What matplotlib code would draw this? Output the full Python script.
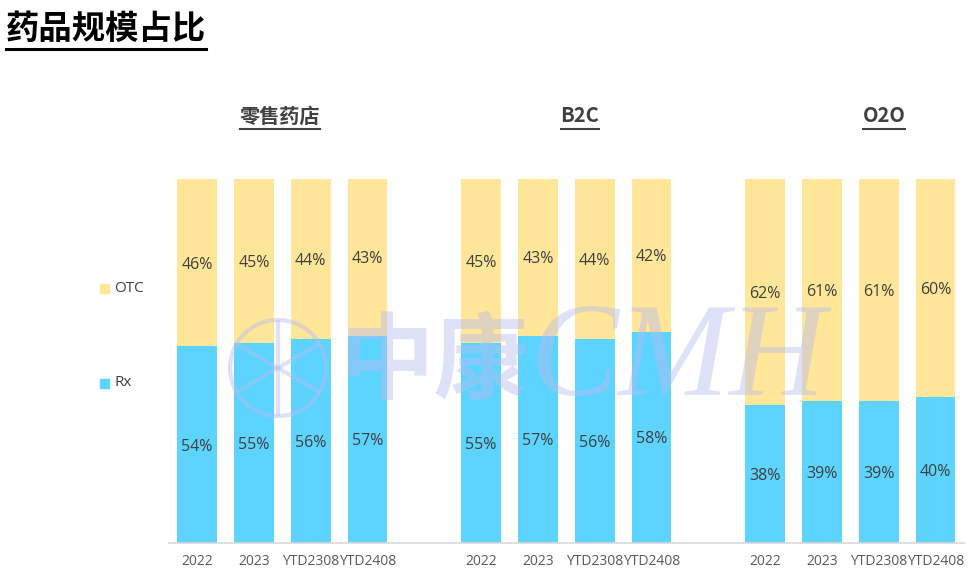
import matplotlib
matplotlib.use("Agg")
import matplotlib.pyplot as plt
from matplotlib.patches import Circle, Rectangle
from matplotlib.lines import Line2D
from matplotlib.transforms import IdentityTransform
import numpy as np

plt.rcParams['font.family'] = ['Open Sans', 'Noto Sans CJK SC', 'DejaVu Sans']

groups = ['零售药店', 'B2C', 'O2O']
periods = ['2022', '2023', 'YTD2308', 'YTD2408']
rx = {
    '零售药店': [54, 55, 56, 57],
    'B2C': [55, 57, 56, 58],
    'O2O': [38, 39, 39, 40],
}
otc = {
    '零售药店': [46, 45, 44, 43],
    'B2C': [45, 43, 44, 42],
    'O2O': [62, 61, 61, 60],
}

C_OTC = '#FFE699'
C_RX = '#5DD3FF'
TXT = '#404040'

W, H = 973, 578
fig = plt.figure(figsize=(W / 100, H / 100), dpi=100)

def fx(px):
    return px / W

def fy(py):
    return 1 - py / H

ax = fig.add_axes([fx(168.6), fy(543), fx(964) - fx(168.6), fy(179) - fy(543)])

xs, xl, rv, ov = [], [], [], []
for gi, g in enumerate(groups):
    for pi, p in enumerate(periods):
        xs.append(gi * 5 + pi)
        xl.append(p)
        rv.append(rx[g][pi])
        ov.append(otc[g][pi])
xs = np.array(xs)
rv = np.array(rv, dtype=float)
ov = np.array(ov, dtype=float)
tot = rv + ov
rfrac = rv / tot
ofrac = ov / tot

ax.bar(xs, rfrac, width=0.70, color=C_RX, zorder=2)
ax.bar(xs, ofrac, width=0.70, bottom=rfrac, color=C_OTC, zorder=2)
for x, r, o, rvv, ovv in zip(xs, rfrac, ofrac, rv, ov):
    ax.text(x, r / 2, f'{int(rvv)}%', ha='center', va='center_baseline', fontsize=11.5, color=TXT, zorder=3)
    ax.text(x, r + o / 2, f'{int(ovv)}%', ha='center', va='center_baseline', fontsize=11.5, color=TXT, zorder=3)

ax.set_xlim(-0.5, 13.5)
ax.set_ylim(0, 1)
ax.set_xticks(xs)
ax.set_xticklabels(xl, fontsize=10, color='#595959')
ax.tick_params(axis='x', length=0, pad=8)
ax.set_yticks([])
for s in ['top', 'right', 'left']:
    ax.spines[s].set_visible(False)
ax.spines['bottom'].set_color('#D9D9D9')
ax.spines['bottom'].set_linewidth(1.2)

items = []
t = fig.text(fx(6), fy(29), '药品规模占比', fontsize=24, fontweight='bold', color='black',
             ha='left', va='center', family=['Noto Sans CJK SC', 'DejaVu Sans'])
items.append((t, 2.2, 3, 'black'))
sub_x = [280, 580, 884]
for g, sx in zip(groups, sub_x):
    t = fig.text(fx(sx), fy(116), g, fontsize=14.5, fontweight='bold', color=TXT, ha='center', va='center',
                 family=['Noto Sans CJK SC', 'DejaVu Sans'])
    items.append((t, 1.5, 2, TXT))

fig.canvas.draw()
r = fig.canvas.get_renderer()
for t, lw, gap, c in items:
    bb = t.get_window_extent(renderer=r)
    yline = bb.y0 - gap
    fig.add_artist(Line2D([bb.x0 / W, bb.x1 / W], [yline / H, yline / H], color=c, lw=lw,
                          transform=fig.transFigure))

# Legend
for lab, py, col in [('OTC', 288, C_OTC), ('Rx', 383, C_RX)]:
    fig.add_artist(Rectangle((fx(100), fy(py + 4.5)), 9 / W, 9 / H, color=col, transform=fig.transFigure))
    fig.text(fx(114), fy(py), lab, fontsize=11, color=TXT, ha='left', va='center')

# Watermark
wm = '#B8BEF0'
cx, cy, rad = 278, H - 368, 48
fig.add_artist(Circle((cx, cy), rad, transform=IdentityTransform(), fill=False, ec=wm, lw=3,
                      alpha=0.45, zorder=10))
for ang in range(0, 180, 60):
    a = np.deg2rad(ang + 90)
    dx, dy = (rad - 2) * np.cos(a), (rad - 2) * np.sin(a)
    fig.add_artist(Line2D([cx - dx, cx + dx], [cy - dy, cy + dy], color=wm, lw=3, alpha=0.45,
                          transform=IdentityTransform(), zorder=10))
fig.text(fx(340), fy(364), '中康', fontsize=68, fontweight='bold', color=wm, alpha=0.45, ha='left',
         va='center', zorder=10, family=['Noto Sans CJK SC', 'DejaVu Sans'])
fig.text(fx(530), fy(362), 'CMH', fontsize=96, family='Liberation Serif', style='italic', color=wm,
         alpha=0.45, ha='left', va='center', zorder=10)

fig.savefig('out.png', dpi=100)
